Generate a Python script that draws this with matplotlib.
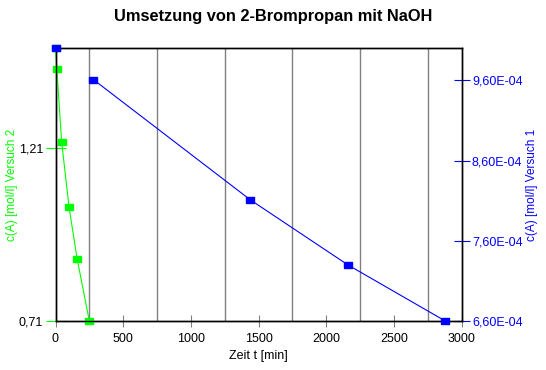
import matplotlib
matplotlib.use("Agg")
import matplotlib.pyplot as plt
from matplotlib.ticker import FixedLocator, FuncFormatter

# Versuch 2 (linke Achse)
t2 = [0, 10, 45, 100, 160, 250]
c2 = [1.50, 1.44, 1.23, 1.04, 0.89, 0.71]

# Versuch 1 (rechte Achse)
t1 = [0, 280, 1440, 2160, 2880]
c1 = [1.0e-3, 9.61e-4, 8.11e-4, 7.30e-4, 6.60e-4]

xticks = [0, 500, 1000, 1500, 2000, 2500, 3000]
grid_x = [250, 750, 1250, 1750, 2250, 2750]
yticks_left = [0.71, 1.21]
yticks_right = [6.6e-4, 7.6e-4, 8.6e-4, 9.6e-4]

GREEN = "#00ff00"
BLUE = "#0000ff"

plt.rcParams['font.family'] = ['Liberation Sans', 'DejaVu Sans']
plt.rcParams['font.size'] = 9

fig = plt.figure(figsize=(5.46, 3.70), dpi=100)
ax = fig.add_axes([55.5/546, 1 - 321/370, 406/546, (321 - 48.3)/370])
ax2 = ax.twinx()

rect = [(-1, -0.7), (1, -0.7), (1, 0.7), (-1, 0.7), (-1, -0.7)]

ax.plot(t2, c2, color=GREEN, lw=0.8, marker=rect, ms=5.8, mec=GREEN, mfc=GREEN, clip_on=False, zorder=3)
ax2.plot(t1[1:], c1[1:], color=BLUE, lw=0.8, clip_on=False, zorder=3)
ax2.plot(t1, c1, ls="none", marker=rect, ms=5.8, mec=BLUE, mfc=BLUE, clip_on=False, zorder=4)

ax.set_xlim(0, 3000)
ax.set_ylim(0.71, 1.50)
ax2.set_ylim(6.6e-4, 1.0e-3)

ax.xaxis.set_major_locator(FixedLocator(xticks))
ax.xaxis.set_minor_locator(FixedLocator(grid_x))
ax.grid(which="minor", axis="x", color="#808080", lw=1)
ax.tick_params(axis="x", which="major", direction="inout", length=8, color="#808080", labelsize=9, pad=5)
ax.tick_params(axis="x", which="minor", length=0)

ax.yaxis.set_major_locator(FixedLocator(yticks_left))
ax.yaxis.set_major_formatter(FuncFormatter(lambda v, p: f"{v:.2f}".replace(".", ",")))
ax.tick_params(axis="y", direction="inout", length=14, color=GREEN, labelsize=9, pad=2)

ax2.yaxis.set_major_locator(FixedLocator(yticks_right))
ax2.yaxis.set_major_formatter(FuncFormatter(lambda v, p: f"{v:.2E}".replace(".", ",")))
ax2.tick_params(axis="y", direction="inout", length=11, color=BLUE, labelcolor=BLUE, labelsize=9, pad=2)

for a in (ax, ax2):
    for s in a.spines.values():
        s.set_color("black")
        s.set_linewidth(1)

ax.set_xlabel("Zeit t [min]", fontsize=9, labelpad=3)
ax.set_ylabel("c(A) [mol/l] Versuch 2", color=GREEN, fontsize=8.5, va="center")
ax.yaxis.set_label_coords(-0.107, 0.5)
ax2.set_ylabel("c(A) [mol/l] Versuch 1", color=BLUE, fontsize=8.5, va="center")
ax2.yaxis.set_label_coords(1.174, 0.5)

fig.text(273/546, 1 - 17/370, "Umsetzung von 2-Brompropan mit NaOH", ha="center", va="center",
         fontsize=11.8, fontweight="bold")

fig.savefig("out.png", dpi=100)
